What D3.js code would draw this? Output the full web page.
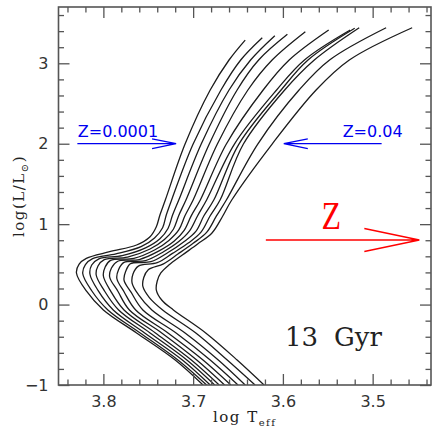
<!DOCTYPE html>
<html>
<head>
<meta charset="utf-8">
<script src="https://cdn.jsdelivr.net/npm/d3@7"></script>
<style>
  body { margin: 0; background: #fff; }
  svg { display: block; }
</style>
</head>
<body>
<svg id="chart" width="434" height="434"></svg>
<script>
// 13 Gyr isochrones, [log Teff, log(L/Lsun)], from Z=0.0001 (hottest) to Z=0.04 (coolest)
const iso01 = [[3.689,-1],[3.720,-0.689],[3.763,-0.353],[3.800,-0.067],[3.819,0.169],[3.830,0.393],[3.827,0.504],[3.819,0.575],[3.793,0.657],[3.763,0.741],[3.748,0.844],[3.741,0.968],[3.737,1.114],[3.731,1.300],[3.709,1.996],[3.681,2.668],[3.660,3.041],[3.642,3.289]];
const iso02 = [[3.685,-1],[3.717,-0.689],[3.759,-0.353],[3.795,-0.067],[3.813,0.172],[3.823,0.386],[3.820,0.498],[3.812,0.572],[3.786,0.631],[3.758,0.721],[3.743,0.829],[3.734,0.956],[3.730,1.111],[3.724,1.300],[3.700,1.996],[3.669,2.668],[3.647,3.041],[3.623,3.318]];
const iso03 = [[3.681,-1],[3.712,-0.689],[3.754,-0.353],[3.789,-0.067],[3.806,0.176],[3.815,0.380],[3.813,0.492],[3.805,0.569],[3.779,0.609],[3.753,0.705],[3.737,0.818],[3.728,0.946],[3.723,1.110],[3.716,1.300],[3.691,1.996],[3.660,2.668],[3.636,3.041],[3.609,3.343]];
const iso04 = [[3.676,-1],[3.707,-0.689],[3.748,-0.353],[3.783,-0.067],[3.799,0.174],[3.808,0.368],[3.806,0.480],[3.799,0.559],[3.773,0.591],[3.748,0.691],[3.732,0.808],[3.722,0.937],[3.716,1.109],[3.708,1.300],[3.682,1.996],[3.651,2.668],[3.627,3.041],[3.595,3.360]];
const iso05 = [[3.671,-1],[3.702,-0.689],[3.742,-0.353],[3.777,-0.067],[3.792,0.171],[3.800,0.355],[3.798,0.467],[3.792,0.549],[3.766,0.574],[3.743,0.678],[3.727,0.798],[3.716,0.928],[3.709,1.107],[3.700,1.300],[3.673,1.996],[3.639,2.668],[3.612,3.041],[3.575,3.393]];
const iso06 = [[3.665,-1],[3.696,-0.689],[3.735,-0.353],[3.771,-0.067],[3.784,0.169],[3.793,0.343],[3.791,0.455],[3.784,0.539],[3.760,0.560],[3.738,0.667],[3.721,0.790],[3.710,0.922],[3.702,1.106],[3.692,1.300],[3.663,1.996],[3.622,2.668],[3.593,3.041],[3.549,3.414]];
const iso07 = [[3.658,-1],[3.689,-0.689],[3.728,-0.353],[3.764,-0.067],[3.777,0.160],[3.785,0.324],[3.783,0.436],[3.777,0.524],[3.753,0.547],[3.733,0.657],[3.716,0.783],[3.704,0.916],[3.695,1.105],[3.685,1.300],[3.654,1.996],[3.607,2.668],[3.576,3.041],[3.525,3.414]];
const iso08 = [[3.650,-1],[3.681,-0.689],[3.719,-0.353],[3.756,-0.067],[3.769,0.151],[3.777,0.305],[3.775,0.417],[3.770,0.508],[3.747,0.533],[3.728,0.647],[3.711,0.775],[3.697,0.910],[3.688,1.104],[3.677,1.300],[3.649,1.996],[3.602,2.668],[3.572,3.041],[3.520,3.435]];
const iso09 = [[3.642,-1],[3.672,-0.689],[3.709,-0.353],[3.746,-0.067],[3.761,0.124],[3.768,0.268],[3.767,0.380],[3.761,0.478],[3.740,0.521],[3.723,0.637],[3.705,0.768],[3.691,0.904],[3.681,1.104],[3.670,1.300],[3.644,1.996],[3.598,2.668],[3.565,3.041],[3.515,3.442]];
const iso10 = [[3.631,-1],[3.662,-0.689],[3.697,-0.353],[3.734,-0.067],[3.749,0.090],[3.756,0.225],[3.755,0.337],[3.750,0.434],[3.733,0.507],[3.717,0.628],[3.700,0.762],[3.685,0.897],[3.674,1.102],[3.663,1.300],[3.628,1.996],[3.582,2.668],[3.548,3.041],[3.485,3.442]];
const iso11 = [[3.621,-1],[3.651,-0.689],[3.686,-0.353],[3.722,-0.067],[3.735,0.057],[3.741,0.181],[3.740,0.293],[3.736,0.393],[3.727,0.492],[3.712,0.616],[3.695,0.753],[3.679,0.890],[3.667,1.101],[3.657,1.300],[3.612,1.996],[3.563,2.668],[3.526,3.041],[3.456,3.442]];
const isochrones = [iso01, iso02, iso03, iso04, iso05, iso06, iso07, iso08, iso09, iso10, iso11];

// Axis ticks
const xMajorTicks = [3.8, 3.7, 3.6, 3.5];
const xMinorTicks = [3.84, 3.82, 3.78, 3.76, 3.74, 3.72, 3.68, 3.66, 3.64, 3.62, 3.58, 3.56, 3.54, 3.52, 3.48, 3.46, 3.44];
const yMajorTicks = [-1, 0, 1, 2, 3];
const yMinorTicks = [-0.8, -0.6, -0.4, -0.2, 0.2, 0.4, 0.6, 0.8, 1.2, 1.4, 1.6, 1.8, 2.2, 2.4, 2.6, 2.8, 3.2, 3.4, 3.6];

// Annotation texts
const lowZLabel = "Z=0.0001";
const highZLabel = "Z=0.04";
const ageLabel = ["13", "Gyr"];

const svg = d3.select("#chart");
const plotLeft = 58.5, plotRight = 431, plotTop = 7, plotBottom = 385;

const x = d3.scaleLinear().domain([3.85, 3.435]).range([plotLeft, plotRight]);
const y = d3.scaleLinear().domain([-1, 3.7]).range([plotBottom, plotTop]);

const axisColor = "#555";

// Isochrones
svg.append("defs").append("clipPath").attr("id", "plot-clip")
  .append("rect").attr("x", plotLeft).attr("y", plotTop)
  .attr("width", plotRight - plotLeft).attr("height", plotBottom - plotTop);

const line = d3.line()
  .x(d => x(d[0])).y(d => y(d[1]))
  .curve(d3.curveCatmullRom.alpha(0.5));

svg.append("g").attr("clip-path", "url(#plot-clip)")
  .selectAll("path").data(isochrones).join("path")
  .attr("d", line)
  .attr("fill", "none")
  .attr("stroke", "#1c1c1c")
  .attr("stroke-width", 1.3);

// Axes with inward ticks on all four sides
function styleAxis(g) {
  g.select(".domain").remove();
  g.selectAll(".tick line").attr("stroke", axisColor).attr("stroke-width", 1.3);
  g.selectAll("text").attr("fill", "#333")
    .style("font-family", "'DejaVu Sans', sans-serif").style("font-size", "16px");
}

svg.append("g").attr("transform", `translate(0,${plotBottom})`)
  .call(d3.axisBottom(x).tickValues(xMajorTicks).tickSize(-11).tickPadding(11).tickFormat(d3.format(".1f")))
  .call(styleAxis);
svg.append("g").attr("transform", `translate(0,${plotBottom})`)
  .call(d3.axisBottom(x).tickValues(xMinorTicks).tickSize(-5.5).tickFormat(""))
  .call(styleAxis);
svg.append("g").attr("transform", `translate(0,${plotTop})`)
  .call(d3.axisTop(x).tickValues(xMajorTicks).tickSize(-11).tickFormat(""))
  .call(styleAxis);
svg.append("g").attr("transform", `translate(0,${plotTop})`)
  .call(d3.axisTop(x).tickValues(xMinorTicks).tickSize(-5.5).tickFormat(""))
  .call(styleAxis);

svg.append("g").attr("transform", `translate(${plotLeft},0)`)
  .call(d3.axisLeft(y).tickValues(yMajorTicks).tickSize(-11).tickPadding(10).tickFormat(d3.format("d")))
  .call(styleAxis);
svg.append("g").attr("transform", `translate(${plotLeft},0)`)
  .call(d3.axisLeft(y).tickValues(yMinorTicks).tickSize(-5.5).tickFormat(""))
  .call(styleAxis);
svg.append("g").attr("transform", `translate(${plotRight},0)`)
  .call(d3.axisRight(y).tickValues(yMajorTicks).tickSize(-11).tickFormat(""))
  .call(styleAxis);
svg.append("g").attr("transform", `translate(${plotRight},0)`)
  .call(d3.axisRight(y).tickValues(yMinorTicks).tickSize(-5.5).tickFormat(""))
  .call(styleAxis);

svg.append("rect")
  .attr("x", plotLeft).attr("y", plotTop)
  .attr("width", plotRight - plotLeft).attr("height", plotBottom - plotTop)
  .attr("fill", "none").attr("stroke", axisColor).attr("stroke-width", 1.6);

// Axis titles
const serif = "'DejaVu Serif', serif";
const xTitle = svg.append("text")
  .attr("x", (plotLeft + plotRight) / 2).attr("y", 422)
  .attr("text-anchor", "middle")
  .style("font-family", serif).style("font-size", "15px")
  .style("letter-spacing", "1.5px").attr("fill", "#222");
xTitle.append("tspan").text("log T");
xTitle.append("tspan").attr("dy", 4).style("font-size", "10px").text("eff");

const yTitle = svg.append("text")
  .attr("transform", `translate(24,${(plotTop + plotBottom) / 2}) rotate(-90)`)
  .attr("text-anchor", "middle")
  .style("font-family", serif).style("font-size", "15px")
  .style("letter-spacing", "1.5px").attr("fill", "#222");
yTitle.append("tspan").text("log(L/L");
yTitle.append("tspan").attr("dy", 4).style("font-size", "10px").text("⊙");
yTitle.append("tspan").attr("dy", -4).text(")");

// Arrows
function arrow(x0, x1, yv, headLen, headHalf, color, width) {
  const yy = y(yv);
  const xa = x(x0), xb = x(x1);
  const dir = xb > xa ? 1 : -1;
  const back = xb - dir * headLen;
  svg.append("path")
    .attr("d", `M${xa},${yy}L${xb},${yy}M${back},${yy - headHalf}L${xb},${yy}L${back},${yy + headHalf}`)
    .attr("fill", "none").attr("stroke", color).attr("stroke-width", width);
}
arrow(3.829, 3.719, 2, 24, 4.8, "#0000f0", 1.3);
arrow(3.490, 3.599, 2, 24, 4.8, "#0000f0", 1.3);
arrow(3.619, 3.448, 0.803, 55, 11.5, "#ff0000", 1.3);

const sans = "'DejaVu Sans', sans-serif";
svg.append("text").attr("x", x(3.8285)).attr("y", 137)
  .style("font-family", sans).style("font-size", "16px").attr("fill", "#0000f0")
  .text(lowZLabel);
svg.append("text").attr("x", x(3.5)).attr("y", 137)
  .attr("text-anchor", "middle")
  .style("font-family", sans).style("font-size", "16px").attr("fill", "#0000f0")
  .text(highZLabel);

svg.append("text")
  .attr("transform", `translate(${x(3.546)},229) scale(0.8,1)`)
  .attr("text-anchor", "middle")
  .style("font-family", "'Liberation Serif', serif").style("font-size", "40px")
  .attr("fill", "#ff0000")
  .text("Z");

// Age
const age = svg.append("text").attr("y", 346)
  .style("font-family", serif).style("font-size", "26px").attr("fill", "#222");
age.append("tspan").attr("x", 285).text(ageLabel[0]);
age.append("tspan").attr("x", 334).text(ageLabel[1]);
</script>
</body>
</html>
